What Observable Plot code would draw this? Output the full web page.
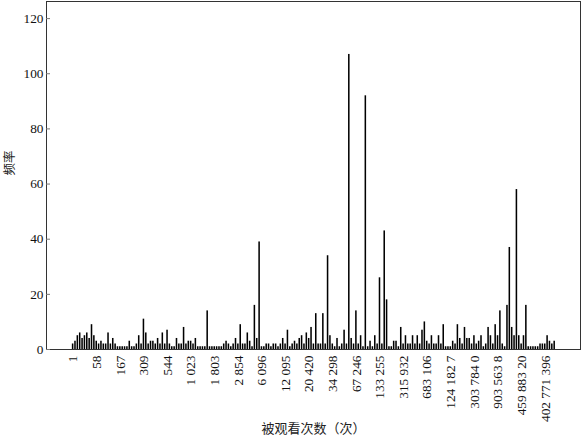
<!DOCTYPE html>
<html>
<head>
<meta charset="utf-8">
<script src="https://cdn.jsdelivr.net/npm/d3@7"></script>
<script src="https://cdn.jsdelivr.net/npm/@observablehq/plot@0.6"></script>
<style>
  html, body { margin: 0; padding: 0; background: #fff; }
  #chart { width: 581px; height: 439px; }
  #chart svg text { font-family: "Liberation Serif", "Times New Roman", serif; }
  #chart svg text.cjk { font-family: "Noto Sans CJK SC", sans-serif; }
</style>
</head>
<body>
<div id="chart"></div>
<script>
// Tick labels on the x axis (one every 10 categories)
const tickLabels = ["1", "58", "167", "309", "544", "1 023", "1 803", "2 854", "6 096", "12 095",
  "20 420", "34 298", "67 246", "133 255", "315 932", "683 106", "124 182 7", "303 784 0",
  "903 563 8", "459 883 20", "402 771 396"];

// Frequency of each viewing-count bin
const freq = [
  2, 3, 5, 6, 4, 5, 6, 4, 9, 5,
  3, 2, 3, 2, 2, 6, 2, 4, 2, 1,
  1, 1, 1, 1, 3, 1, 1, 2, 5, 2,
  11, 6, 2, 3, 3, 2, 4, 2, 6, 2,
  7, 2, 1, 1, 4, 2, 2, 8, 2, 3,
  3, 2, 4, 1, 1, 1, 1, 14, 1, 1,
  1, 1, 1, 1, 2, 3, 2, 1, 2, 4,
  2, 9, 2, 2, 6, 3, 1, 16, 4, 39,
  1, 1, 2, 2, 1, 2, 2, 1, 2, 4,
  2, 7, 1, 2, 3, 2, 4, 5, 2, 6,
  4, 8, 2, 13, 2, 2, 13, 2, 34, 5,
  2, 1, 4, 1, 2, 7, 2, 107, 4, 2,
  14, 2, 5, 1, 92, 1, 3, 1, 5, 2,
  26, 2, 43, 18, 1, 1, 3, 3, 1, 8,
  2, 5, 2, 2, 5, 2, 5, 2, 7, 10,
  3, 2, 5, 2, 2, 5, 2, 9, 1, 1,
  1, 3, 2, 9, 4, 2, 8, 4, 4, 2,
  5, 2, 3, 5, 1, 2, 8, 5, 2, 9,
  5, 14, 2, 1, 16, 37, 8, 5, 58, 5,
  2, 5, 16, 1, 1, 1, 1, 1, 2, 2,
  2, 5, 3, 2, 3
];

const yTicks = [0, 20, 40, 60, 80, 100, 120];
const xTitle = "被观看次数（次）";
const yTitle = "频率";

const data = freq.map((v, i) => ({i, v}));
const tickIdx = tickLabels.map((_, k) => k * 10);

const serif = "Liberation Serif";
const cjk = "Noto Sans CJK SC";

const chart = Plot.plot({
  width: 581,
  height: 439,
  marginLeft: 46,
  marginRight: 1,
  marginTop: 1,
  marginBottom: 90,
  style: "font-family: 'Liberation Serif', serif; font-size: 13.3px; color: #111; background: #fff;",
  x: {
    type: "band",
    domain: d3.range(freq.length),
    insetLeft: 25.5,
    insetRight: 24.7,
    paddingInner: 0.35,
    paddingOuter: 0.15
  },
  y: {domain: [0, 126.2]},
  marks: [
    Plot.barY(data, {x: "i", y: "v", fill: "#000"}),
    Plot.frame({stroke: "#333"}),
    Plot.axisY({ticks: yTicks, tickSize: -4, tickPadding: 7, label: null, stroke: "#777",
      fontFamily: serif, fontSize: 13.3}),
    Plot.axisX({ticks: tickIdx, tickSize: 0, tickPadding: 6, tickRotate: -90,
      tickFormat: (d) => tickLabels[d / 10], label: null, fontFamily: serif, fontSize: 13.3}),
    Plot.text([yTitle], {frameAnchor: "left", dx: -37, rotate: -90, fontFamily: cjk, fontSize: 12.5,
      fill: "#222", className: "cjk"}),
    Plot.text([xTitle], {frameAnchor: "bottom", dy: 83, fontFamily: cjk, fontSize: 13, fill: "#222",
      className: "cjk"})
  ]
});
chart.querySelectorAll("g[aria-label='text'] text").forEach(t => t.classList.add("cjk"));
document.getElementById("chart").appendChild(chart);
</script>
</body>
</html>
